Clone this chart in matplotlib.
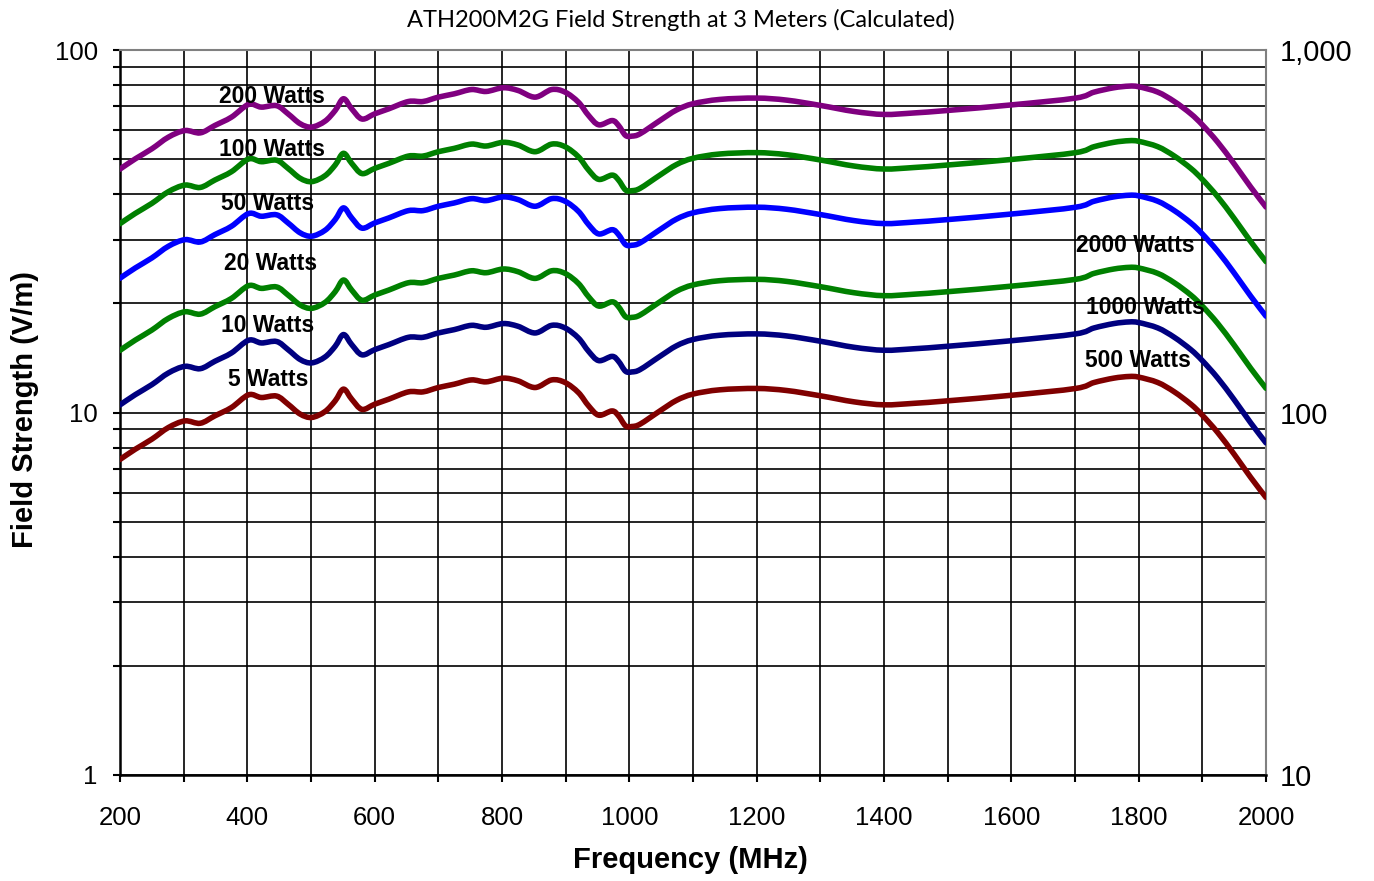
import numpy as np
import matplotlib
matplotlib.use("Agg")
from matplotlib import pyplot as plt
from matplotlib.path import Path
from matplotlib.patches import PathPatch
from matplotlib.ticker import FixedLocator, LogLocator, NullFormatter, NullLocator

# field strength at 5 W, other curves scale with sqrt(power)
freq_mhz = [200, 224, 250, 276, 302, 326, 349, 375, 402, 422, 446, 464, 483, 501,
            522, 538, 551, 564, 580, 600, 622, 653, 676, 700, 725, 752, 775, 802,
            825, 852, 878, 899, 920, 936, 952, 973, 983, 994, 1004, 1017, 1048,
            1074, 1100, 1142, 1200, 1247, 1300, 1353, 1400, 1447, 1500, 1601,
            1701, 1730, 1761, 1785, 1800, 1830, 1856, 1882, 1900, 1924, 1950,
            1976, 2000]
field_5w = [7.42, 7.92, 8.44, 9.09, 9.48, 9.34, 9.79, 10.32, 11.19, 11.0, 11.1,
            10.54, 9.9, 9.69, 10.06, 10.77, 11.6, 10.88, 10.2, 10.54, 10.88, 11.4,
            11.4, 11.72, 11.97, 12.3, 12.15, 12.44, 12.23, 11.72, 12.3, 12.1,
            11.35, 10.43, 9.83, 10.1, 9.79, 9.19, 9.15, 9.29, 10.1, 10.8, 11.24,
            11.55, 11.65, 11.5, 11.12, 10.7, 10.5, 10.6, 10.77, 11.16, 11.65,
            12.1, 12.44, 12.57, 12.52, 12.1, 11.4, 10.54, 9.83, 8.81, 7.67, 6.62,
            5.83]
watts = [200, 100, 50, 20, 10, 5]
line_colors = ["#800080", "#008000", "#0000FF", "#008000", "#000080", "#800000"]

left_labels = ["200 Watts", "100 Watts", "50 Watts", "20 Watts", "10 Watts", "5 Watts"]
left_label_pos = [(439, 74.6), (439, 53.3), (432, 37.8), (436, 25.7), (432, 17.4), (432, 12.3)]
right_labels = ["2000 Watts", "1000 Watts", "500 Watts"]
right_label_pos = [(1794, 28.8), (1810, 19.5), (1799, 13.9)]


def smooth_path(x, y):
    # excel-like smoothed line: bezier segments through the points (in log y)
    pts = np.column_stack([x, np.log10(y)])
    verts = [pts[0]]
    codes = [Path.MOVETO]
    n = len(pts)
    for i in range(n - 1):
        p0 = pts[max(i - 1, 0)]
        p1 = pts[i]
        p2 = pts[i + 1]
        p3 = pts[min(i + 2, n - 1)]
        verts += [p1 + (p2 - p0) / 6, p2 - (p3 - p1) / 6, p2]
        codes += [Path.CURVE4] * 3
    verts = np.array(verts)
    verts[:, 1] = 10 ** verts[:, 1]
    return Path(verts, codes)


fig = plt.figure(figsize=(13.74, 8.81), dpi=100)
ax = fig.add_axes([120/1374, 1 - 775/881, 1146/1374, 725/881])

freq = np.array(freq_mhz, dtype=float)
base = np.array(field_5w)
for w, c in zip(watts, line_colors):
    p = smooth_path(freq, base * np.sqrt(w / 5))
    ax.add_patch(PathPatch(p, fill=False, edgecolor=c, lw=4.0,
                           joinstyle="round", capstyle="round", zorder=3))

ax.set_yscale("log")
ax.set_ylim(1, 100)
ax.set_xlim(200, 2000)
ax.xaxis.set_major_locator(FixedLocator(range(200, 2001, 200)))
ax.xaxis.set_minor_locator(FixedLocator(range(300, 2000, 200)))
ax.yaxis.set_major_locator(FixedLocator([1, 10, 100]))
ax.yaxis.set_minor_locator(LogLocator(base=10, subs=range(2, 10)))
ax.yaxis.set_minor_formatter(NullFormatter())
ax.set_yticklabels(["1", "10", "100"])

ax.grid(True, which="both", color="black", lw=1.2, zorder=1)
ax.set_axisbelow(True)
ax.tick_params(axis="both", which="both", direction="out", length=5, width=1.5,
               color="black")
ax.tick_params(axis="y", which="major", labelsize=18.5, pad=11)
ax.tick_params(axis="x", which="major", labelsize=18.5, pad=17)
for s in ["left", "bottom"]:
    ax.spines[s].set_linewidth(1.8)
    ax.spines[s].set_color("black")
for s in ["top", "right"]:
    ax.spines[s].set_linewidth(1.5)
    ax.spines[s].set_color("#808080")

ax2 = ax.twinx()
ax2.set_yscale("log")
ax2.set_ylim(10, 1000)
ax2.yaxis.set_major_locator(FixedLocator([10, 100, 1000]))
ax2.yaxis.set_minor_locator(NullLocator())
ax2.set_yticklabels(["10", "100", "1,000"])
ax2.tick_params(axis="y", which="major", length=0, labelsize=21, pad=10)
for s in ax2.spines.values():
    s.set_visible(False)

for t, (x, y) in zip(left_labels + right_labels, left_label_pos + right_label_pos):
    ax.text(x, y, t, ha="center", va="center", fontsize=16.5, fontweight="bold",
            family="Liberation Sans", zorder=5)

fig.text(25/1374, 1 - 410/881, "Field Strength (V/m)", rotation=90, ha="center",
         va="center", fontsize=21, fontweight="bold", family="Liberation Sans")
fig.text(690/1374, 1 - 860/881, "Frequency (MHz)", ha="center", va="center",
         fontsize=21, fontweight="bold", family="Liberation Sans")

fig.text(681/1374, 1 - 20/881, "ATH200M2G Field Strength at 3 Meters (Calculated)",
         ha="center", va="center", fontsize=17, family="Lato")

for a in [ax, ax2]:
    for lab in a.get_xticklabels() + a.get_yticklabels():
        lab.set_family("Liberation Sans")

fig.savefig("out.png", dpi=100)
